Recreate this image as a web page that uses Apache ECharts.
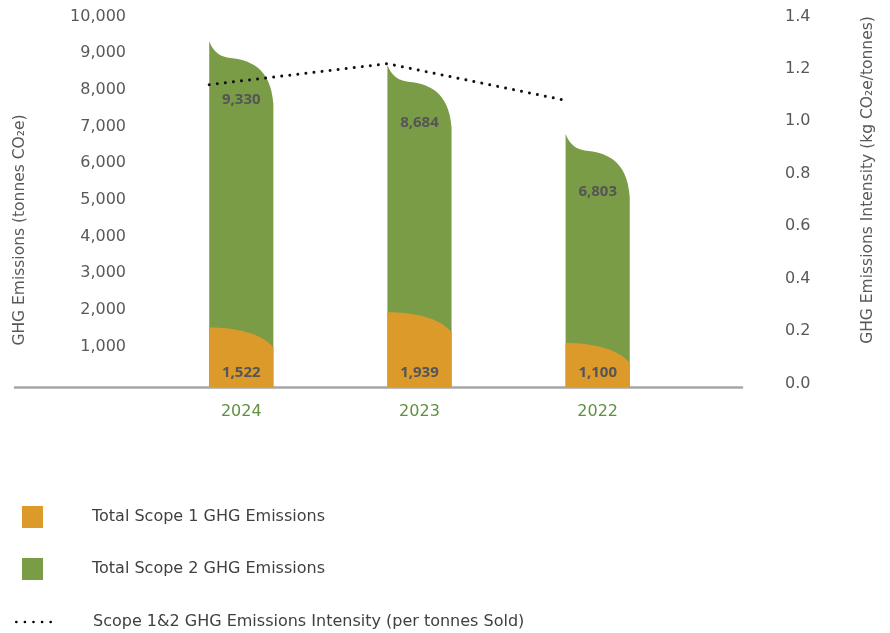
<!DOCTYPE html>
<html>
<head>
<meta charset="utf-8">
<script src="https://cdn.jsdelivr.net/npm/echarts@6/dist/echarts.min.js"></script>
<style>
  html, body { margin: 0; padding: 0; background: #ffffff; }
  #chart { width: 890px; height: 633px; }
</style>
</head>
<body>
<div id="chart"></div>
<script>
// Reporting years, left to right
const years = ['2024', '2023', '2022'];
// Total Scope 1 emissions (tonnes CO2e)
const scope1 = [1522, 1939, 1100];
// Total Scope 2 emissions (tonnes CO2e)
const scope2 = [9330, 8684, 6803];
// Scope 1&2 intensity (kg CO2e / tonne sold)
const intensity = [1.14, 1.22, 1.08];

const TEXT_FONT = '"DejaVu Sans", "Open Sans", sans-serif';
const LABEL_FONT = '"Open Sans", "Noto Sans", sans-serif';
const GREEN = '#7a9c47';
const ORANGE = '#dc9a2b';
const GREY_TEXT = '#595959';
const BAR_W = 0.36;        // bar width, in category units
const BASE_DROP = 3.5;     // bars run down to the baseline drawn just under zero
const fmt = v => v.toLocaleString('en-US');

function barGeom(api) {
  const i = api.value(0), v = api.value(1);
  const top = api.coord([i, v]);
  const base = api.coord([i, 0]);
  const w = api.size([BAR_W, 0])[0];
  return { cx: top[0], x0: top[0] - w / 2, x1: top[0] + w / 2, y0: top[1], zero: base[1], yb: base[1] + BASE_DROP, w: w, v: v };
}

const labelStyle = {
  fill: '#555555', fontSize: 15, fontWeight: 'bold', fontFamily: LABEL_FONT,
  align: 'center', verticalAlign: 'middle'
};

// Scope 2: tall bar whose top sweeps down from a peak on the left edge
function scope2Item(params, api) {
  const g = barGeom(api);
  const p = (fx, fy) => (g.x0 + fx * g.w).toFixed(2) + ',' + (g.y0 + fy * g.w).toFixed(2);
  const d = 'M' + g.x0 + ',' + g.yb + 'L' + g.x0 + ',' + g.y0 +
    'C' + p(0.047, 0.125) + ' ' + p(0.12, 0.23) + ' ' + p(0.3, 0.26) +
    'C' + p(0.62, 0.29) + ' ' + p(0.96, 0.40) + ' ' + p(1, 0.98) +
    'L' + g.x1 + ',' + g.yb + 'Z';
  return {
    type: 'group',
    children: [
      { type: 'path', shape: { pathData: d }, style: { fill: api.visual('color') } },
      { type: 'text', x: g.cx, y: g.y0 + 0.91 * g.w, style: Object.assign({ text: fmt(g.v) }, labelStyle) }
    ]
  };
}

// Scope 1: short bar with a rounded shoulder falling to the right
function scope1Item(params, api) {
  const g = barGeom(api);
  const p = (fx, fy) => (g.x0 + fx * g.w).toFixed(2) + ',' + (g.y0 + fy * g.w).toFixed(2);
  const d = 'M' + g.x0 + ',' + g.yb + 'L' + g.x0 + ',' + g.y0 +
    'C' + p(0.4, 0) + ' ' + p(0.8, 0.08) + ' ' + p(1, 0.31) +
    'L' + g.x1 + ',' + g.yb + 'Z';
  return {
    type: 'group',
    children: [
      { type: 'path', shape: { pathData: d }, style: { fill: api.visual('color') } },
      { type: 'text', x: g.cx, y: g.zero - 10.5, style: Object.assign({ text: fmt(g.v) }, labelStyle) }
    ]
  };
}

// Five round dots used as the legend key of the intensity line
const dotIcon = 'path://' + [1.4, 10.4, 19.4, 28.4, 37.4]
  .map(cx => 'M' + (cx - 1.4) + ',1.4a1.4,1.4 0 1,0 2.8,0a1.4,1.4 0 1,0 -2.8,0z').join('');
const squareIcon = 'path://M0,0h21v22h-21z';

const legendNames = [
  'Total Scope 1 GHG Emissions',
  'Total Scope 2 GHG Emissions',
  'Scope 1&2 GHG Emissions Intensity (per tonnes Sold)'
];
const legendIcons = [squareIcon, squareIcon, dotIcon];
const legendLeft = [22, 22, 15];
const legendTop = [506, 558, 614];

const chart = echarts.init(document.getElementById('chart'), null, { renderer: 'canvas' });

chart.setOption({
  backgroundColor: '#ffffff',
  animation: false,
  textStyle: { fontFamily: TEXT_FONT },
  grid: { left: 15, right: 148, top: 16.5, bottom: 249.6 },
  xAxis: {
    type: 'value',
    min: -1.27,
    max: 2.81,
    offset: BASE_DROP,
    splitLine: { show: false },
    axisTick: { show: false },
    axisLine: { show: true, onZero: false, lineStyle: { color: '#a6a6a6', width: 2.5 } },
    axisLabel: {
      customValues: years.map((y, i) => i),
      formatter: v => years[Math.round(v)],
      color: '#5e9140', fontSize: 16, margin: 17, fontFamily: TEXT_FONT
    }
  },
  yAxis: [
    {
      type: 'value', min: 0, max: 10000, interval: 1000,
      axisLine: { show: false }, axisTick: { show: false }, splitLine: { show: false },
      axisLabel: {
        inside: true, align: 'right', margin: 111,
        color: GREY_TEXT, fontSize: 16, fontFamily: TEXT_FONT,
        formatter: v => (v === 0 ? '' : fmt(v))
      }
    },
    {
      type: 'value', min: 0, max: 1.4, interval: 0.2, position: 'right',
      axisLine: { show: false }, axisTick: { show: false }, splitLine: { show: false },
      axisLabel: {
        margin: 43, color: GREY_TEXT, fontSize: 16, fontFamily: TEXT_FONT,
        formatter: v => v.toFixed(1)
      }
    }
  ],
  legend: legendNames.map((name, k) => ({
    orient: 'vertical',
    left: legendLeft[k],
    top: legendTop[k],
    padding: 0,
    itemWidth: 37,
    itemHeight: 22,
    selectedMode: false,
    textStyle: { color: '#404040', fontSize: 16, fontFamily: TEXT_FONT, padding: [0, 0, 0, 36] },
    data: [{ name: name, icon: legendIcons[k] }]
  })),
  graphic: [
    {
      type: 'text', x: 20, y: 230, rotation: Math.PI / 2,
      style: { text: 'GHG Emissions (tonnes CO\u2082e)', fill: GREY_TEXT, fontSize: 15.5, fontFamily: TEXT_FONT, align: 'center', verticalAlign: 'middle' }
    },
    {
      type: 'text', x: 868, y: 180, rotation: Math.PI / 2,
      style: { text: 'GHG Emissions Intensity (kg CO\u2082e/tonnes)', fill: GREY_TEXT, fontSize: 15.5, fontFamily: TEXT_FONT, align: 'center', verticalAlign: 'middle' }
    }
  ],
  series: [
    {
      name: legendNames[1],
      type: 'custom',
      renderItem: scope2Item,
      itemStyle: { color: GREEN },
      encode: { x: 0, y: 1 },
      data: scope2.map((v, i) => [i, v]),
      z: 2
    },
    {
      name: legendNames[0],
      type: 'custom',
      renderItem: scope1Item,
      itemStyle: { color: ORANGE },
      encode: { x: 0, y: 1 },
      data: scope1.map((v, i) => [i, v]),
      z: 3
    },
    {
      name: legendNames[2],
      type: 'line',
      yAxisIndex: 1,
      symbol: 'none',
      itemStyle: { color: '#000000' },
      lineStyle: { color: '#111111', width: 3, type: [0.01, 8.1], cap: 'round' },
      data: intensity.map((v, i) => [i - BAR_W / 2, v]),
      z: 4
    }
  ]
});
</script>
</body>
</html>
